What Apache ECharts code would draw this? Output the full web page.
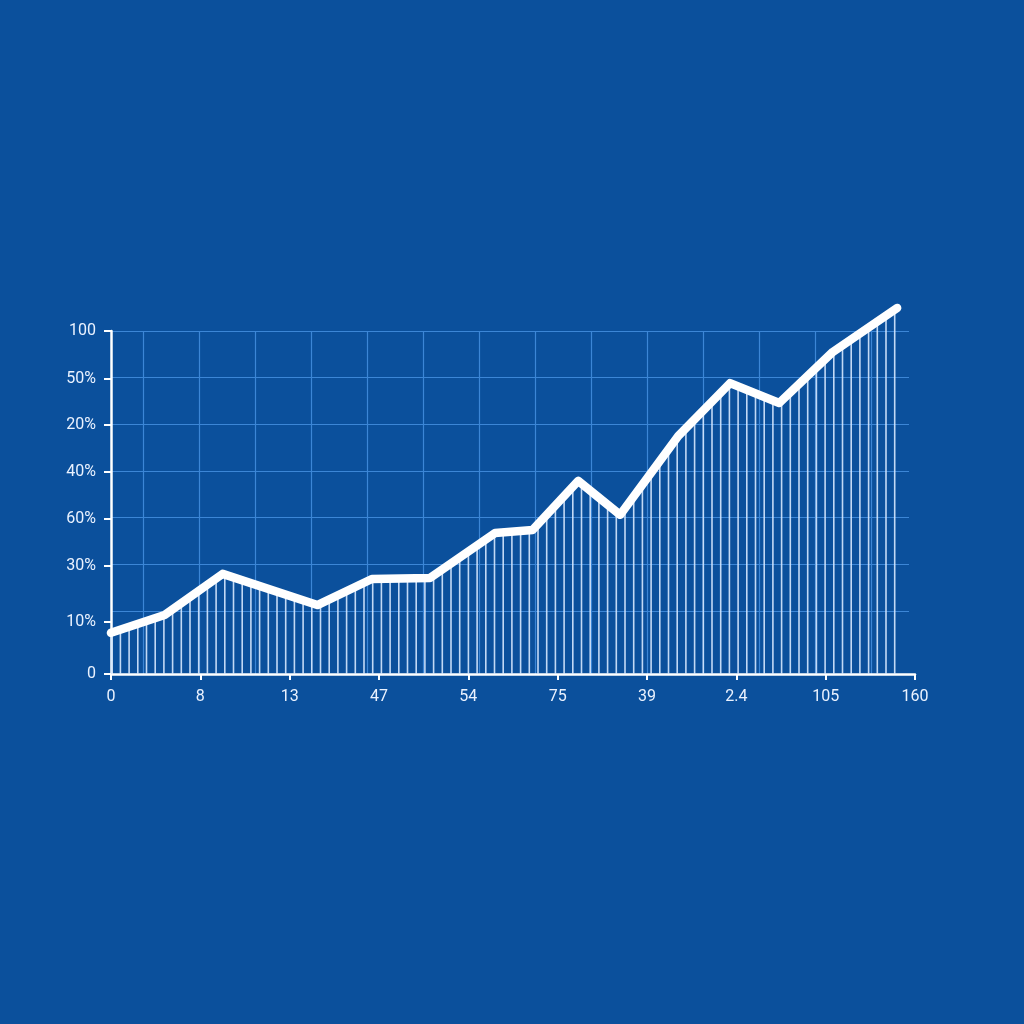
<!DOCTYPE html>
<html><head><meta charset="utf-8">
<script src="https://cdn.jsdelivr.net/npm/echarts@6/dist/echarts.min.js"></script>
<style>html,body{margin:0;padding:0;background:#0b509c;}#c{width:1024px;height:1024px;}</style>
</head><body><div id="c"></div>
<script>
const xTickLabels = ['0','8','13','47','54','75','39','2.4','105','160'];
const yTickValues = [0, 15.2, 31.5, 45.2, 58.9, 72.6, 86.0, 100];
const yTickLabels = ['0','10%','30%','60%','40%','20%','50%','100'];
const lineX = [0, 0.60, 1.25, 2.31, 2.92, 3.57, 4.30, 4.72, 5.23, 5.70, 6.35, 6.93, 7.48, 8.08, 8.80];
const lineY = [12, 17.2, 29.2, 20.1, 27.7, 28.0, 41.1, 42.0, 56.3, 46.4, 69.4, 84.8, 79.0, 93.9, 106.7];

// vertical hatch pattern for the area under the line
const pc = document.createElement('canvas');
pc.width = 87; pc.height = 10;
const pctx = pc.getContext('2d');
pctx.fillStyle = 'rgba(214,232,255,0.9)';
for (let i = 0; i < 10; i++) {
  const x = (7.3 + 8.7 * i) % 87;
  pctx.fillRect(x - 0.8, 0, 1.6, 10);
}

const txt = '#eaf2ff';
const chart = echarts.init(document.getElementById('c'));
chart.setOption({
  backgroundColor: '#0b509c',
  animation: false,
  grid: [
    { left: 111, width: 804, top: 331, height: 343 },
    { left: 111, width: 798, top: 331, height: 280 },
    { left: 143, width: 728, top: 331, height: 343 }
  ],
  xAxis: [
    {
      gridIndex: 0, type: 'value', min: 0, max: 9, interval: 1,
      axisLine: { show: true, lineStyle: { color: '#ffffff', width: 2.5 } },
      axisTick: { show: true, length: 6, lineStyle: { color: '#ffffff', width: 2 } },
      axisLabel: {
        color: txt, fontSize: 16, fontFamily: 'Roboto', margin: 15,
        formatter: v => xTickLabels[Math.round(v)] ?? ''
      },
      splitLine: { show: false }
    },
    { gridIndex: 1, type: 'value', min: 0, max: 1, show: false },
    {
      gridIndex: 2, type: 'value', min: 0, max: 13, interval: 1,
      axisLine: { show: false }, axisTick: { show: false }, axisLabel: { show: false },
      splitLine: { show: true, lineStyle: { color: '#3c86d6', width: 1.2 } }
    }
  ],
  yAxis: [
    {
      gridIndex: 0, type: 'value', min: 0, max: 100,
      axisLine: { show: true, lineStyle: { color: '#ffffff', width: 2.5 } },
      axisTick: { show: true, length: 7, customValues: yTickValues, lineStyle: { color: '#ffffff', width: 2 } },
      axisLabel: {
        color: txt, fontSize: 16, fontFamily: 'Roboto', margin: 15,
        customValues: yTickValues,
        formatter: v => {
          const i = yTickValues.findIndex(t => Math.abs(t - v) < 0.01);
          return i >= 0 ? yTickLabels[i] : '';
        }
      },
      splitLine: { show: false }
    },
    {
      gridIndex: 1, type: 'value', inverse: true, min: 0, max: 6, interval: 1,
      axisLine: { show: false }, axisTick: { show: false }, axisLabel: { show: false },
      splitLine: { show: true, lineStyle: { color: '#3c86d6', width: 1.2 } }
    },
    { gridIndex: 2, type: 'value', min: 0, max: 1, show: false }
  ],
  series: [
    {
      type: 'line',
      xAxisIndex: 0, yAxisIndex: 0,
      data: lineX.map((x, i) => [x, lineY[i]]),
      symbol: 'none',
      clip: false,
      lineStyle: { color: '#ffffff', width: 8.5, cap: 'round', join: 'round' },
      areaStyle: { color: { image: pc, repeat: 'repeat' }, opacity: 1, origin: 'start' },
      z: 3
    }
  ]
});
</script>
</body></html>
